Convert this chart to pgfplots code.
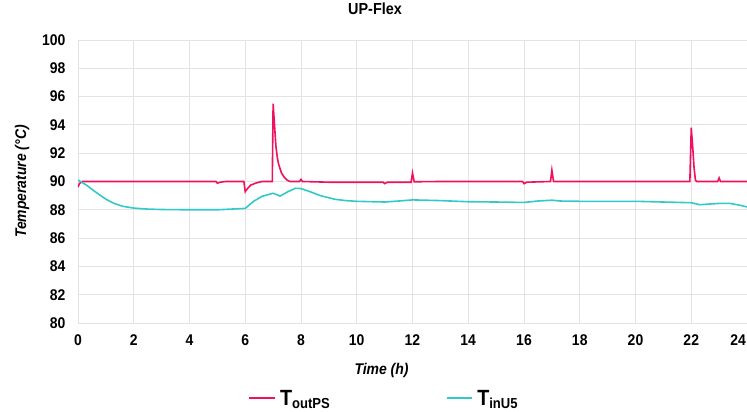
\documentclass[border=0pt]{standalone}
\usepackage{pgfplots}
\pgfplotsset{compat=1.18}
\usepackage{fontspec}
\setmainfont{Liberation Sans}[FakeStretch=0.9]
\definecolor{redc}{HTML}{F0105F}
\definecolor{cyanc}{HTML}{33C9C9}
\definecolor{gridc}{HTML}{E3E3E3}
\begin{document}
\begin{tikzpicture}
\begin{axis}[
  name=ax,
  scale only axis,
  width=669pt, height=283pt,
  xmin=0, xmax=24, ymin=80, ymax=100,
  xtick={0,2,...,24}, ytick={80,82,...,100},
  xticklabels={0,2,4,6,8,10,12,14,16,18,20,22,\makebox[0pt][r]{24\hspace{1pt}}},
  grid=major,
  major grid style={gridc, line width=0.8pt},
  axis line style={gridc, line width=0.8pt},
  major tick length=0pt,
  /pgf/number format/assume math mode=true,
  ticklabel style={font=\fontsize{15.5}{17}\selectfont\bfseries},
  xticklabel style={yshift=-8pt},
  yticklabel style={xshift=-9pt},
  xlabel={\fontsize{15.5}{17}\selectfont\bfseries\itshape Time (h)},
  ylabel={\fontsize{15.5}{17}\selectfont\bfseries\itshape Temperature (°C)},
  xlabel style={at={(axis description cs:0.4537,0)}, anchor=center, yshift=-47pt},
  ylabel style={at={(axis description cs:-0.0837,0.5)}, anchor=center},
  title={\fontsize{16}{18}\selectfont\bfseries UP-Flex},
  title style={at={(axis description cs:0.444,1)}, anchor=center, yshift=25pt},
  legend columns=2,
  legend style={draw=none, at={(0.25,-0.222)}, anchor=north west,
    /tikz/every even column/.append style={column sep=4.0cm}},
  legend cell align=left,
  legend image code/.code={\draw[#1, line width=2pt] (0cm,0cm) -- (0.9cm,0cm);},
]
\addplot[redc, line width=1.6pt] coordinates {
(0,89.6) (0.05,89.85) (0.15,90.0) (1,90.0) (2,90.0) (3,90.0) (4,90.0) (4.95,90.0)
(5.0,89.88) (5.1,89.95) (5.3,90.0) (5.95,90.0) (6.0,89.28) (6.1,89.55) (6.2,89.75)
(6.4,89.9) (6.6,90.0) (6.97,90.0) (7.0,95.5) (7.05,94.0) (7.1,92.5) (7.15,91.7)
(7.2,91.2) (7.3,90.6) (7.4,90.3) (7.5,90.1) (7.6,90.0) (7.95,90.0) (8.0,90.15)
(8.05,90.0) (9.0,89.95) (10,89.95) (10.95,89.95) (11.0,89.85) (11.1,89.95)
(11.95,89.95) (12.0,90.6) (12.06,89.98) (13,90.0) (14,90.0) (15,90.0) (15.95,90.0)
(16.0,89.85) (16.1,89.95) (16.95,90.0) (17.0,90.8) (17.06,90.0) (18,90.0) (19,90.0)
(20,90.0) (21,90.0) (21.95,90.0) (22.0,93.8) (22.05,92.5) (22.1,91.0) (22.15,90.1)
(22.2,90.0) (22.95,90.0) (23.0,90.25) (23.05,90.0) (24,90.0)
};
\addlegendentry{\hspace{2pt}\fontsize{22}{24}\selectfont\bfseries T\raisebox{-0.3ex}{\fontsize{14.5}{16}\selectfont outPS}}
\addplot[cyanc, line width=1.6pt] coordinates {
(0,90.1) (0.3,89.75) (0.6,89.3) (1,88.75) (1.3,88.45) (1.6,88.25) (2,88.12)
(2.5,88.05) (3,88.02) (4,88.0) (5,88.0) (5.5,88.05) (6,88.1) (6.15,88.35)
(6.3,88.6) (6.6,88.95) (7,89.17) (7.25,88.97) (7.5,89.25) (7.8,89.52) (8.0,89.5)
(8.3,89.3) (8.7,89.0) (9.2,88.75) (9.6,88.65) (10,88.6) (11,88.55) (11.5,88.62)
(12,88.7) (13,88.65) (14,88.57) (15,88.55) (16,88.52) (16.5,88.62) (17,88.68)
(17.3,88.62) (18,88.6) (19,88.6) (20,88.6) (21,88.55) (22,88.5) (22.3,88.36)
(22.6,88.4) (23,88.45) (23.4,88.45) (23.8,88.3) (24,88.2)
};
\addlegendentry{\hspace{2pt}\fontsize{22}{24}\selectfont\bfseries T\raisebox{-0.3ex}{\fontsize{14.5}{16}\selectfont inU5}}
\end{axis}
\pgfresetboundingbox
\path ([xshift=-78pt,yshift=-89pt]ax.south west) rectangle ([yshift=40pt]ax.north east);
\end{tikzpicture}
\end{document}
